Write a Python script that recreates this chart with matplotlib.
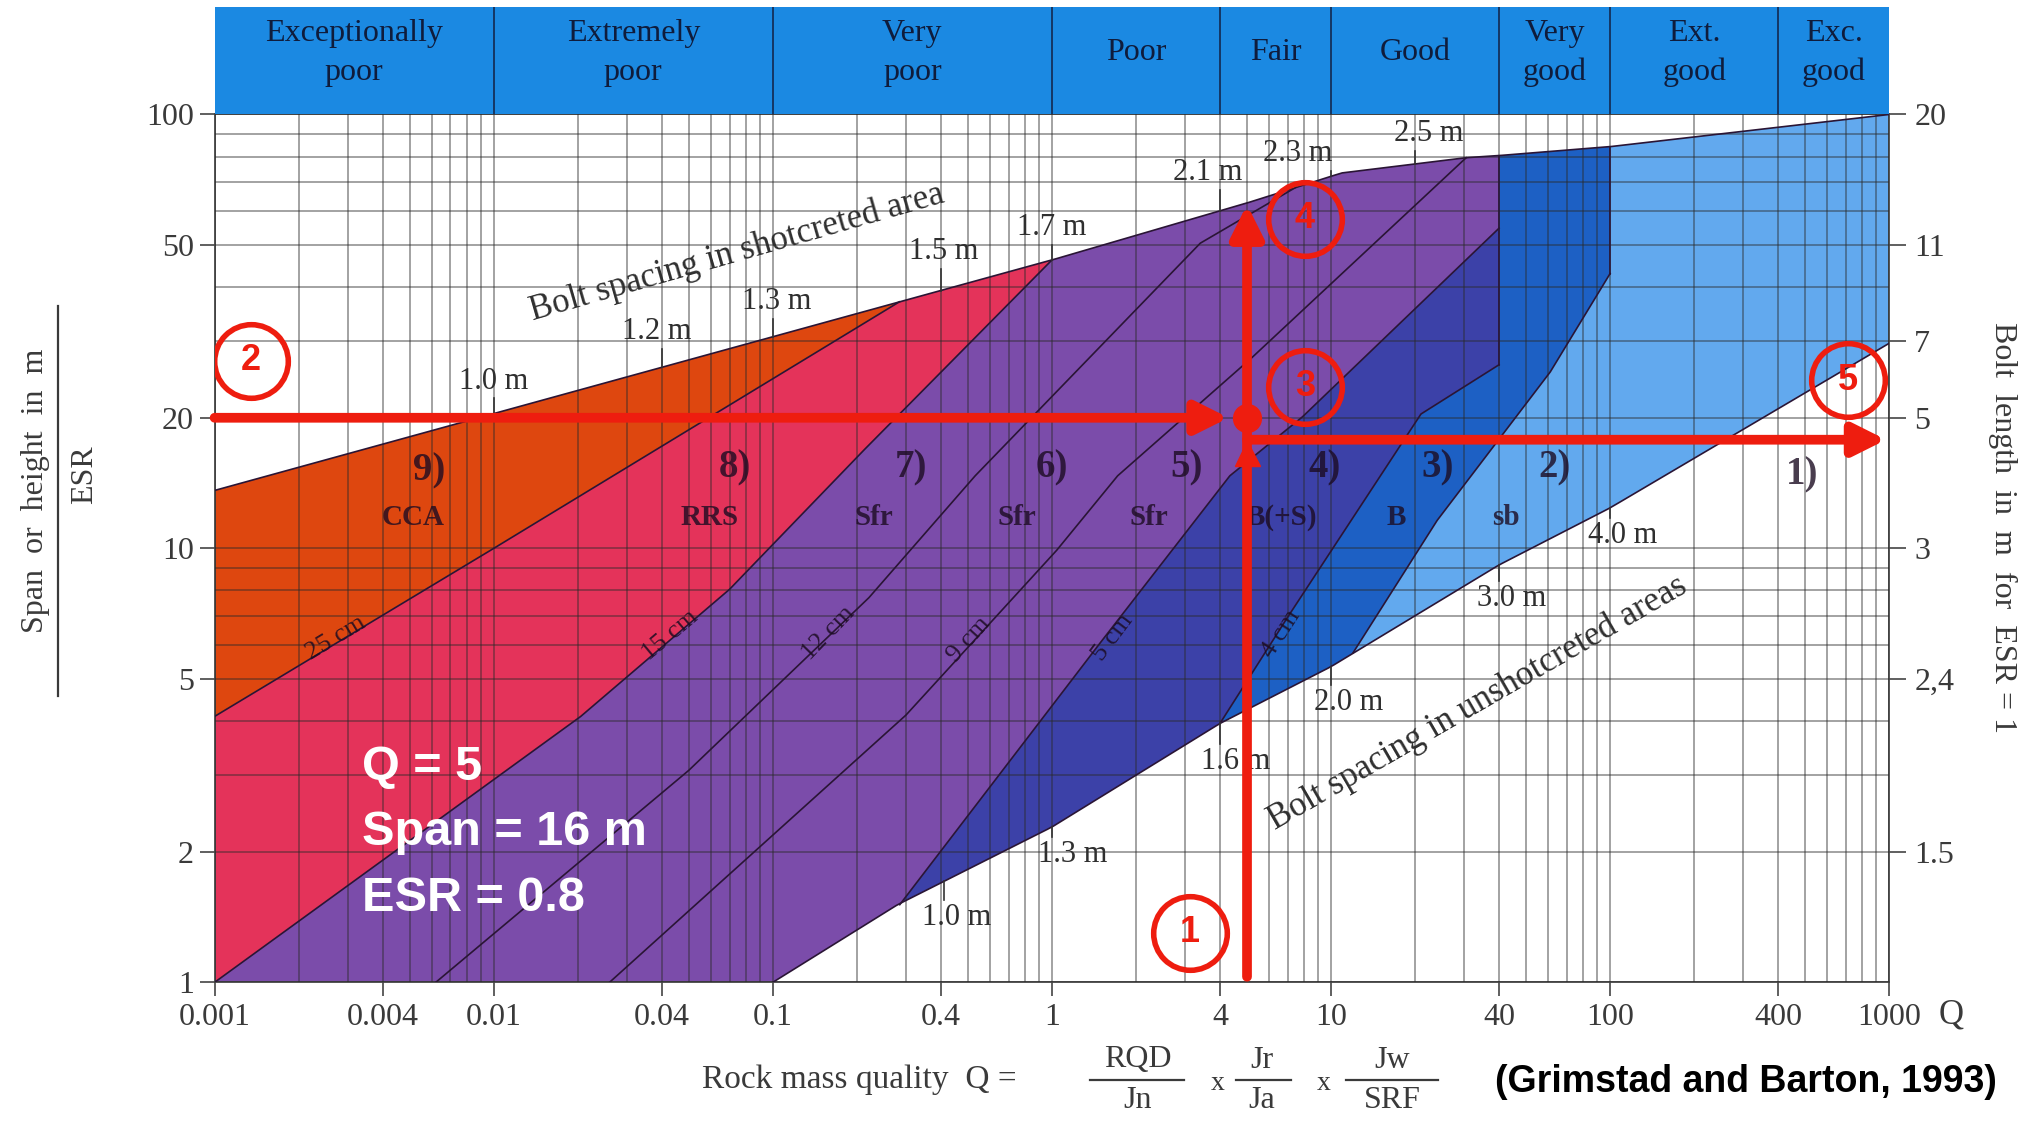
import numpy as np
import matplotlib.pyplot as plt
from matplotlib import font_manager
from matplotlib.lines import Line2D

# ---- values (Q on x, span/ESR on y) ----
upper_q = [0.001, 1, 5.2, 10.9, 30.5, 40, 100, 1000]
upper_s = [13.6, 46.2, 63, 73.3, 79.5, 80.4, 84.3, 100]
lower_q = [0.1, 0.28, 1.0, 4.0, 10, 40, 100, 1000]
lower_s = [1.0, 1.51, 2.28, 3.95, 5.34, 9.16, 12.4, 29.7]
b98_q = [0.001, 0.01, 0.284]
b98_s = [4.1, 10.0, 37.0]
b87_q = [0.001, 0.0205, 0.07, 0.213, 1.0]
b87_s = [1.0, 4.1, 8.05, 16.9, 46.2]
c12_q = [0.0062, 0.05, 0.221, 0.531, 3.4, 7.5]
c12_s = [1.0, 3.08, 7.7, 14.7, 50.5, 68.0]
c9_q = [0.026, 0.3, 1.04, 1.72, 5.2, 30.5]
c9_s = [1.0, 4.13, 9.9, 14.7, 27.5, 79.5]
b54_q = [0.285, 1.49, 4.34, 7.9, 40]
b54_s = [1.51, 6.06, 14.7, 20.1, 54.7]
b43_q = [4.0, 7.0, 21, 40]
b43_s = [3.95, 6.95, 20.4, 26.5]
b32_q = [12, 24, 61, 100]
b32_s = [5.75, 11.6, 25.5, 43]

classes = ["Exceptionally\npoor", "Extremely\npoor", "Very\npoor", "Poor", "Fair",
           "Good", "Very\ngood", "Ext.\ngood", "Exc.\ngood"]
class_edges = [0.001, 0.01, 0.1, 1, 4, 10, 40, 100, 400, 1000]

xt_vals = [0.001, 0.004, 0.01, 0.04, 0.1, 0.4, 1, 4, 10, 40, 100, 400, 1000]
xt_labels = ["0.001", "0.004", "0.01", "0.04", "0.1", "0.4", "1", "4", "10", "40", "100", "400", "1000"]
yl_vals = [1, 2, 5, 10, 20, 50, 100]
yr_vals = [2, 5, 10, 20, 30, 50, 100]
yr_labels = ["1.5", "2,4", "3", "5", "7", "11", "20"]

reg_num = ["9)", "8)", "7)", "6)", "5)", "4)", "3)", "2)", "1)"]
reg_num_q = [0.00587, 0.0733, 0.312, 1.0, 3.04, 9.5, 24.1, 63.4, 487]
reg_num_s = [15.1, 15.3, 15.3, 15.3, 15.3, 15.3, 15.3, 15.3, 14.8]
reg_code = ["CCA", "RRS", "Sfr", "Sfr", "Sfr", "B(+S)", "B", "sb"]
reg_code_q = [0.00516, 0.0592, 0.231, 0.75, 2.22, 6.65, 17.1, 42.2]
reg_code_s = [11.8] * 8

top_lab = ["1.0 m", "1.2 m", "1.3 m", "1.5 m", "1.7 m", "2.1 m", "2.3 m", "2.5 m"]
top_lab_q = [0.01, 0.0385, 0.103, 0.41, 1.0, 3.6, 7.57, 22.4]
top_lab_s = [24.3, 31.6, 37.0, 48.4, 54.8, 73.3, 81.3, 90.2]
top_tick_q = [0.01, 0.04, 0.1, 0.4, 1.0, 4.0, 10, 20]
bot_lab = ["1.0 m", "1.3 m", "1.6 m", "2.0 m", "3.0 m", "4.0 m"]
bot_lab_q = [0.454, 1.19, 4.57, 11.6, 44.5, 110.7]
bot_lab_s = [1.41, 1.97, 3.23, 4.41, 7.67, 10.7]
bot_tick_q = [0.41, 1.0, 4.0, 10, 40, 100]

thick_lab = ["25 cm", "15 cm", "12 cm", "9 cm", "5 cm", "4 cm"]
thick_q = [0.00272, 0.0428, 0.158, 0.506, 1.65, 6.65]
thick_s = [6.23, 6.3, 6.36, 6.15, 6.23, 6.36]
thick_rot = [31, 40, 46, 48, 53, 57]

case_q, case_span, case_bolt = 5, 20, 17.8
marks = ["1", "2", "3", "4", "5"]
mark_q = [3.13, 0.00135, 8.07, 8.07, 710]
mark_s = [1.30, 27.1, 23.6, 57.5, 24.4]
case_text = ["Q = 5", "Span = 16 m", "ESR = 0.8"]
case_text_s = [3.12, 2.21, 1.56]

SERIF = "Liberation Serif"
SANS = "Liberation Sans"
RED = "#EE1D0F"
DARK = "#1c0c22"

try:
    font_manager.findfont(font_manager.FontProperties(family="Liberation Sans Narrow"),
                          fallback_to_default=False)
    cite_font, cite_size = "Liberation Sans Narrow", 32
except ValueError:
    cite_font, cite_size = SANS, 27


def along(qs, ss, q0, q1, n=60):
    lq = np.linspace(np.log10(q0), np.log10(q1), n)
    ls = np.interp(lq, np.log10(qs), np.log10(ss))
    return list(10 ** lq), list(10 ** ls)


def at(qs, ss, q):
    return 10 ** np.interp(np.log10(q), np.log10(qs), np.log10(ss))


fig = plt.figure(figsize=(20.4, 11.21), dpi=100)
ax = fig.add_axes([0.1052, 0.1237, 0.8209, 0.7742])
ax.set_xscale("log")
ax.set_yscale("log")
ax.set_xlim(0.001, 1000)
ax.set_ylim(1, 100)

# ---- coloured support regions ----
eq, es = along(upper_q, upper_s, 0.284, 0.001)
ax.fill(b98_q + eq, b98_s + es, color="#DE470F", lw=0, zorder=1)

eq, es = along(upper_q, upper_s, 0.284, 1.0)
ax.fill(b98_q + eq + b87_q[::-1], b98_s + es + b87_s[::-1], color="#E4335A", lw=0, zorder=1)

eq, es = along(upper_q, upper_s, 1.0, 40)
lq, ls = along(lower_q, lower_s, 0.285, 0.1)
ax.fill(b87_q + eq + b54_q[::-1] + lq, b87_s + es + b54_s[::-1] + ls,
        color="#7B4CAA", lw=0, zorder=1)

lq, ls = along(lower_q, lower_s, 4.0, 0.285)
ax.fill(b54_q + b43_q[::-1] + lq, b54_s + b43_s[::-1] + ls, color="#3C41A8", lw=0, zorder=1)

eq, es = along(upper_q, upper_s, 40, 100)
lq, ls = along(lower_q, lower_s, 12, 4.0)
ax.fill(b43_q + eq + b32_q[::-1] + lq, b43_s + es + b32_s[::-1] + ls,
        color="#1D60C4", lw=0, zorder=1)

eq, es = along(upper_q, upper_s, 100, 1000)
lq, ls = along(lower_q, lower_s, 1000, 12)
ax.fill(b32_q + eq + lq, b32_s + es + ls, color="#62A9EE", lw=0, zorder=1)

# ---- grid ----
ax.xaxis.set_minor_locator(plt.LogLocator(base=10, subs=np.arange(1, 10)))
ax.yaxis.set_minor_locator(plt.LogLocator(base=10, subs=np.arange(1, 10)))
ax.xaxis.set_minor_formatter(plt.NullFormatter())
ax.yaxis.set_minor_formatter(plt.NullFormatter())
ax.set_axisbelow(False)
ax.grid(which="both", color="#2a2a2a", alpha=0.55, lw=1.1)

# ---- boundary lines ----
blk = dict(color="#2a1535", lw=1.2, zorder=3)
eq, es = along(upper_q, upper_s, 0.001, 1000, 200)
ax.plot(eq, es, **blk)
lq, ls = along(lower_q, lower_s, 0.1, 1000, 200)
ax.plot(lq, ls, **blk)
for qq, ss in [(b98_q, b98_s), (b87_q, b87_s), (c12_q, c12_s), (c9_q, c9_s),
               (b54_q, b54_s), (b43_q, b43_s), (b32_q, b32_s)]:
    ax.plot(qq, ss, **blk)
ax.plot([40, 40], [b43_s[-1], at(upper_q, upper_s, 40)], **blk)
ax.plot([100, 100], [b32_s[-1], at(upper_q, upper_s, 100)], **blk)

# ---- ticks ----
ax.set_xticks(xt_vals)
ax.set_xticklabels(xt_labels)
ax.set_yticks(yl_vals)
ax.set_yticklabels([str(v) for v in yl_vals])
ax.tick_params(axis="x", which="major", length=10, pad=5, width=1.2, color="#444",
               labelsize=23, labelcolor="#3a3a3a")
ax.tick_params(axis="y", which="major", length=11, pad=4, width=1.2, color="#444",
               labelsize=23, labelcolor="#3a3a3a")
ax.tick_params(which="minor", length=0)
for lab in ax.get_xticklabels() + ax.get_yticklabels():
    lab.set_family(SERIF)
for sp in ax.spines.values():
    sp.set_color("#444")
    sp.set_linewidth(1.3)

ax2 = ax.twinx()
ax2.set_yscale("log")
ax2.set_ylim(1, 100)
ax2.set_yticks(yr_vals)
ax2.set_yticklabels(yr_labels)
ax2.yaxis.set_minor_locator(plt.NullLocator())
ax2.tick_params(axis="y", length=12, pad=6, width=1.2, color="#444", labelsize=23,
                labelcolor="#3a3a3a")
for lab in ax2.get_yticklabels():
    lab.set_family(SERIF)
for sp in ax2.spines.values():
    sp.set_visible(False)

# ---- header band ----
hx = fig.add_axes([0.1052, 0.8979, 0.8209, 0.0963])
hx.set_xscale("log")
hx.set_xlim(0.001, 1000)
hx.set_ylim(0, 1)
hx.set_facecolor("#1B89E2")
hx.set_xticks([])
hx.set_yticks([])
hx.minorticks_off()
for sp in hx.spines.values():
    sp.set_visible(False)
for e in class_edges[1:-1]:
    hx.axvline(e, color="#14305a", lw=1.3)
for i, name in enumerate(classes):
    xc = np.sqrt(class_edges[i] * class_edges[i + 1])
    hx.text(xc, 0.57, name, ha="center", va="center", family=SERIF, fontsize=23,
            color="#0f1c3c", linespacing=1.45)

# ---- region labels ----
for t, q, s in zip(reg_num, reg_num_q, reg_num_s):
    ax.text(q, s, t, ha="center", va="center", family=SERIF, fontsize=28,
            fontweight="bold", color=DARK, alpha=0.8, zorder=4)
for t, q, s in zip(reg_code, reg_code_q, reg_code_s):
    ax.text(q, s, t, ha="center", va="center", family=SERIF, fontsize=21,
            fontweight="bold", color=DARK, alpha=0.8, zorder=4)

# ---- bolt spacing labels along both envelopes ----
for t, q, s, tq in zip(top_lab, top_lab_q, top_lab_s, top_tick_q):
    ax.text(q, s, t, ha="center", va="center", family=SERIF, fontsize=22,
            color="#2f2f2f", zorder=4)
    ax.plot([tq, tq], [s * 10 ** -0.04, at(upper_q, upper_s, tq)], color="#333", lw=1.2, zorder=3)
for t, q, s, tq in zip(bot_lab, bot_lab_q, bot_lab_s, bot_tick_q):
    ax.text(q, s, t, ha="center", va="center", family=SERIF, fontsize=22,
            color="#2f2f2f", zorder=4)
    ax.plot([tq, tq], [at(lower_q, lower_s, tq), s * 10 ** 0.04], color="#333", lw=1.2, zorder=3)

for t, q, s, r in zip(thick_lab, thick_q, thick_s, thick_rot):
    ax.text(q, s, t, ha="center", va="center", family=SERIF, fontsize=19,
            color=DARK, alpha=0.85, rotation=r, zorder=4)

ax.text(0.0745, 48.0, "Bolt spacing in shotcreted area", ha="center", va="center",
        family=SERIF, fontsize=25, color="#2f2f2f", rotation=16, zorder=4)
ax.text(33.6, 4.4, "Bolt spacing in unshotcreted areas", ha="center", va="center",
        family=SERIF, fontsize=25, color="#2f2f2f", rotation=30, zorder=4)

# ---- worked example in red ----
arw = dict(arrowstyle="-|>,head_length=0.8,head_width=0.4", color=RED, lw=7,
           mutation_scale=24, shrinkA=0, shrinkB=0)
ax.annotate("", xy=(4.3, case_span), xytext=(0.001, case_span), arrowprops=arw,
            annotation_clip=False, zorder=5)
ax.annotate("", xy=(case_q, 62), xytext=(case_q, 1.03), arrowprops=arw,
            annotation_clip=False, zorder=5)
ax.annotate("", xy=(975, case_bolt), xytext=(case_q, case_bolt), arrowprops=arw,
            annotation_clip=False, zorder=5)
ax.plot([case_q], [case_span], "o", ms=20, color=RED, zorder=6)
ax.plot([case_q], [16.6], "^", ms=18, color=RED, zorder=6)
for t, q, s in zip(marks, mark_q, mark_s):
    ax.plot([q], [s], "o", ms=53, mfc="none", mec=RED, mew=4, zorder=6)
    ax.text(q, s, t, ha="center", va="center", family=SANS, fontsize=26,
            fontweight="bold", color=RED, zorder=6)
for t, s in zip(case_text, case_text_s):
    ax.text(0.00337, s, t, ha="left", va="center", family=SANS, fontsize=35,
            fontweight="bold", color="white", zorder=7)

# ---- axis titles ----
fig.text(36 / 2040, 1 - 491 / 1121, "Span  or  height  in  m", rotation=90, ha="center",
         va="center", family=SERIF, fontsize=23, color="#3a3a3a")
fig.add_artist(Line2D([58 / 2040, 58 / 2040], [1 - 306 / 1121, 1 - 696 / 1121],
                      color="#3a3a3a", lw=1.6))
fig.text(85 / 2040, 1 - 475 / 1121, "ESR", rotation=90, ha="center", va="center",
         family=SERIF, fontsize=23, color="#3a3a3a")
fig.text(2003 / 2040, 1 - 527 / 1121, "Bolt  length  in  m  for  ESR = 1", rotation=270,
         ha="center", va="center", family=SERIF, fontsize=23, color="#3a3a3a")
fig.text(1951 / 2040, 1 - 1015 / 1121, "Q", ha="center", va="center", family=SERIF,
         fontsize=25, color="#3a3a3a")

# Q formula under the axis
fs = 23
fig.text(702 / 2040, 1 - 1080 / 1121, "Rock mass quality  Q =", ha="left", va="center",
         family=SERIF, fontsize=24, color="#3a3a3a")
for num, den, xc, x0, x1 in [("RQD", "Jn", 1138, 1090, 1184), ("Jr", "Ja", 1262, 1236, 1291),
                             ("Jw", "SRF", 1392, 1346, 1438)]:
    fig.text(xc / 2040, 1 - 1060 / 1121, num, ha="center", va="center", family=SERIF,
             fontsize=fs, color="#3a3a3a")
    fig.text(xc / 2040, 1 - 1100 / 1121, den, ha="center", va="center", family=SERIF,
             fontsize=fs, color="#3a3a3a")
    fig.add_artist(Line2D([x0 / 2040, x1 / 2040], [1 - 1080 / 1121] * 2, color="#3a3a3a", lw=1.6))
for xc in [1218, 1324]:
    fig.text(xc / 2040, 1 - 1083 / 1121, "x", ha="center", va="center", family=SERIF,
             fontsize=20, color="#3a3a3a")

fig.text(1997 / 2040, 1 - 1082 / 1121, "(Grimstad and Barton, 1993)", ha="right", va="center",
         family=cite_font, fontsize=cite_size, fontweight="bold", color="black")

fig.savefig("out.png", dpi=100)
